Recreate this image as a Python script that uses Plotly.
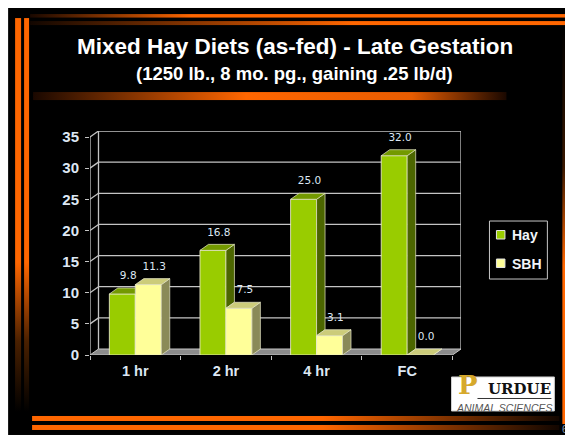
import base64
import plotly.graph_objects as go

# ---------------- data ----------------
categories = ["1 hr", "2 hr", "4 hr", "FC"]
hay = [9.8, 16.8, 25.0, 32.0]
sbh = [11.3, 7.5, 3.1, 0.0]
series_names = ["Hay", "SBH"]
y_ticks = [0, 5, 10, 15, 20, 25, 30, 35]

title_text = "Mixed Hay Diets (as-fed) - Late Gestation"
subtitle_text = "(1250 lb., 8 mo. pg., gaining .25 lb/d)"

# ---------------- geometry (window pixel coords; page body has an 8px margin) ----------------
WIN_W, WIN_H = 573, 435
OFF = 8
FIG_W, FIG_H = WIN_W - OFF, WIN_H - OFF
UX = 90.75          # px per category
UY = 6.23           # px per value unit
DX = 8.5 / UX       # depth offset (x, data units)
DY = 6.0 / UY       # depth offset (y, data units)
BW = 26.0 / UX      # bar width
YMAX = y_ticks[-1]
XR = [-0.5, len(categories) - 0.5 + DX]
YR = [0, YMAX + DY]
AX_X = 90           # window x of the front y-axis
AX_Y = 355          # window y of the front zero line
PW = (XR[1] - XR[0]) * UX
PH = (YR[1] - YR[0]) * UY
ML = AX_X - OFF
MB = FIG_H - (AX_Y - OFF)
MT = FIG_H - MB - PH
MR = FIG_W - ML - PW


def xp(px):
    return (px - AX_X) / PW


def yp(py):
    return (AX_Y - py) / PH


FONT = "Liberation Sans, Arial, sans-serif"
HAY_C = ["#99cc00", "#4c6600", "#739900"]   # front, side, top
SBH_C = ["#ffff99", "#8a8a58", "#cccc7a"]
EDGE = "rgba(235,235,205,0.85)"
GRID = "#c4c4c4"
LABEL_C = "#dde7f3"

pos = list(range(len(categories)))

# ---------------- 3D faces ----------------
def polys_to_xy(polys):
    xs, ys = [], []
    for p in polys:
        for (a, b) in p + [p[0]]:
            xs.append(a)
            ys.append(b)
        xs.append(None)
        ys.append(None)
    return xs, ys


hay_side, hay_top, sbh_side, sbh_top = [], [], [], []
for i, (h, s) in enumerate(zip(hay, sbh)):
    xa, xb = i - BW, i
    if s < h:
        bot = s
        hay_side.append([(xb, bot), (xb + DX, bot + DY), (xb + DX, h + DY), (xb, h)])
        hay_top.append([(xa, h), (xb, h), (xb + DX, h + DY), (xa + DX, h + DY)])
    else:
        hay_top.append([(xa, h), (xb, h), (xb, h + DY), (xa + DX, h + DY)])
    xa, xb = i, i + BW
    sbh_side.append([(xb, 0), (xb + DX, DY), (xb + DX, s + DY), (xb, s)])
    sbh_top.append([(xa, s), (xb, s), (xb + DX, s + DY), (xa + DX, s + DY)])

fig = go.Figure()

fig.add_trace(go.Bar(x=pos, y=hay, width=BW, offset=-BW, name=series_names[0],
                     marker=dict(color=HAY_C[0], line=dict(color=EDGE, width=1)),
                     showlegend=False, hoverinfo="skip"))
fig.add_trace(go.Bar(x=pos, y=sbh, width=BW, offset=0, name=series_names[1],
                     marker=dict(color=SBH_C[0], line=dict(color=EDGE, width=1)),
                     showlegend=False, hoverinfo="skip"))

for polys, col in [(hay_side, HAY_C[1]), (hay_top, HAY_C[2]),
                   (sbh_side, SBH_C[1]), (sbh_top, SBH_C[2])]:
    xs, ys = polys_to_xy(polys)
    fig.add_trace(go.Scatter(x=xs, y=ys, mode="lines", fill="toself", fillcolor=col,
                             line=dict(color=EDGE, width=0.8), showlegend=False,
                             hoverinfo="skip"))

# data labels
for vals, off in [(hay, -BW / 2), (sbh, BW / 2)]:
    fig.add_trace(go.Scatter(
        x=[i + off + 0.065 for i in pos], y=[v + DY + 1.0 for v in vals],
        mode="text", text=[f"{v:.1f}" for v in vals], textposition="top center",
        textfont=dict(family="DejaVu Sans, Verdana, sans-serif", size=10.5, color=LABEL_C),
        showlegend=False, hoverinfo="skip"))

# ---------------- walls / floor / grid ----------------
shapes = []
x_left, x_right = XR[0], len(categories) - 0.5
shapes.append(dict(type="path", xref="x", yref="y", layer="below",
                   path=f"M{x_left},0 L{x_right},0 L{x_right + DX},{DY} L{x_left + DX},{DY} Z",
                   fillcolor="#8c8c8c", line=dict(color=GRID, width=1)))
for v in y_ticks:
    if v > 0:
        shapes.append(dict(type="line", xref="x", yref="y", layer="below",
                           x0=x_left + DX, x1=x_right + DX, y0=v + DY, y1=v + DY,
                           line=dict(color=GRID, width=1.3)))
        shapes.append(dict(type="line", xref="x", yref="y", layer="below",
                           x0=x_left, x1=x_left + DX, y0=v, y1=v + DY,
                           line=dict(color=GRID, width=1.3)))
for xx in [x_left + DX, x_right + DX]:
    shapes.append(dict(type="line", xref="x", yref="y", layer="below",
                       x0=xx, x1=xx, y0=DY, y1=YMAX + DY, line=dict(color=GRID, width=1.3)))
shapes.append(dict(type="line", xref="x", yref="y", layer="below",
                   x0=x_left, x1=x_left, y0=0, y1=YMAX, line=dict(color=GRID, width=1.3)))

# legend (manual)
shapes.append(dict(type="rect", xref="paper", yref="paper", x0=xp(490), x1=xp(548),
                   y0=yp(279), y1=yp(221), line=dict(color="#c8c8c8", width=1),
                   fillcolor="black"))
shapes.append(dict(type="rect", xref="paper", yref="paper", x0=xp(497), x1=xp(505.5),
                   y0=yp(239), y1=yp(230.5), line=dict(color="#e6e6e6", width=1),
                   fillcolor=HAY_C[0]))
shapes.append(dict(type="rect", xref="paper", yref="paper", x0=xp(497), x1=xp(505.5),
                   y0=yp(267.5), y1=yp(259), line=dict(color="#e6e6e6", width=1),
                   fillcolor=SBH_C[0]))
# logo box
shapes.append(dict(type="rect", xref="paper", yref="paper", x0=xp(452), x1=xp(555),
                   y0=yp(411), y1=yp(377), line=dict(color="#d0d0d0", width=1),
                   fillcolor="white"))
shapes.append(dict(type="line", xref="paper", yref="paper", x0=xp(478), x1=xp(552),
                   y0=yp(398.5), y1=yp(398.5), line=dict(color="#333", width=1)))

annotations = [
    dict(text=title_text, x=xp(295), y=yp(46), xref="paper", yref="paper",
         showarrow=False, xanchor="center", yanchor="middle",
         font=dict(family=FONT, size=22.5, color="white", weight="bold")),
    dict(text=subtitle_text, x=xp(295), y=yp(73), xref="paper", yref="paper",
         showarrow=False, xanchor="center", yanchor="middle",
         font=dict(family=FONT, size=18.5, color="white", weight="bold")),
    dict(text=series_names[0], x=xp(511), y=yp(235), xref="paper", yref="paper",
         showarrow=False, xanchor="left", yanchor="middle",
         font=dict(family=FONT, size=14, color="#f2f5fa", weight="bold")),
    dict(text=series_names[1], x=xp(511), y=yp(263.5), xref="paper", yref="paper",
         showarrow=False, xanchor="left", yanchor="middle",
         font=dict(family=FONT, size=14, color="#f2f5fa", weight="bold")),
    # logo
    dict(text="P", x=xp(456), y=yp(402), xref="paper", yref="paper",
         showarrow=False, xanchor="left", yanchor="bottom",
         font=dict(family="DejaVu Serif, serif", size=26, color="#d6a92c", weight="bold")),
    dict(text="URDUE", x=xp(554), y=yp(400.5), xref="paper", yref="paper",
         showarrow=False, xanchor="right", yanchor="bottom",
         font=dict(family="DejaVu Serif, serif", size=15, color="#111", weight="bold")),
    dict(text="ANIMAL SCIENCES", x=xp(505), y=yp(400), xref="paper", yref="paper",
         showarrow=False, xanchor="center", yanchor="top",
         font=dict(family="Liberation Sans Narrow, Liberation Sans, sans-serif", size=10.5,
                   color="#555", style="italic")),
    dict(text="6", x=xp(566), y=yp(430), xref="paper", yref="paper",
         showarrow=False, xanchor="center", yanchor="middle",
         font=dict(family=FONT, size=10, color="#7f9cbc")),
]

# ---------------- background decoration (SVG) ----------------
def grad(gid, horiz, stops):
    x2, y2 = ("1", "0") if horiz else ("0", "1")
    st = "".join(f'<stop offset="{o}" stop-color="{c}"/>' for o, c in stops)
    return f'<linearGradient id="{gid}" x1="0" y1="0" x2="{x2}" y2="{y2}">{st}</linearGradient>'


OR = "#ff6600"
defs = "".join([
    grad("gt1", True, [(0, "#1a0800"), (0.3, OR), (1, OR)]),
    grad("gt2", True, [(0, "#120600"), (0.45, "#c04c00"), (0.6, OR), (1, OR)]),
    grad("gl", False, [(0, OR), (0.62, OR), (0.82, "#4a2000"), (1, "#000")]),
    grad("gr", False, [(0, "#000"), (0.35, "#3a1800"), (0.6, OR), (1, OR)]),
    grad("gb", True, [(0, OR), (0.55, OR), (0.8, "#7a3000"), (1, "#120600")]),
    grad("gs", True, [(0, "#1a0800"), (0.45, OR), (0.8, "#e85c00"), (1, "#1a0800")]),
])
rects = [
    (6, 5, 564, 430, "#000"),
    (30, 14, 539, 3.5, "url(#gt1)"),
    (30, 21, 539, 4, "url(#gt2)"),
    (15, 18, 6, 394, "url(#gl)"),
    (24, 18, 5, 394, "url(#gl)"),
    (563, 28, 3.5, 396, "url(#gr)"),
    (568, 28, 3, 383, "url(#gr)"),
    (32, 416, 528, 5, "url(#gb)"),
    (32, 425, 528, 5, "url(#gb)"),
    (33, 92, 474, 8, "url(#gs)"),
]
body = "".join(f'<rect x="{x}" y="{y}" width="{w}" height="{h}" fill="{f}"/>'
               for x, y, w, h, f in rects)
svg = (f'<svg xmlns="http://www.w3.org/2000/svg" width="{FIG_W}" height="{FIG_H}" '
       f'viewBox="{OFF} {OFF} {FIG_W} {FIG_H}" preserveAspectRatio="none">'
       f'<defs>{defs}</defs>{body}</svg>')
src = "data:image/svg+xml;base64," + base64.b64encode(svg.encode()).decode()

fig.update_layout(
    width=FIG_W, height=FIG_H,
    margin=dict(l=ML, r=MR, t=MT, b=MB, pad=0),
    paper_bgcolor="white", plot_bgcolor="rgba(0,0,0,0)",
    barmode="overlay", showlegend=False,
    shapes=shapes, annotations=annotations,
    images=[dict(source=src, xref="paper", yref="paper", x=xp(OFF), y=yp(OFF),
                 sizex=FIG_W / PW, sizey=FIG_H / PH, xanchor="left", yanchor="top",
                 sizing="stretch", layer="below")],
    xaxis=dict(range=XR, tickvals=pos, ticktext=categories, ticks="", showgrid=False,
               zeroline=False, showline=False, ticklabelstandoff=5,
               tickfont=dict(family=FONT, size=14.5, color=LABEL_C, weight="bold"),
               minor=dict(tickvals=[p + 0.5 for p in [-1] + pos], ticks="outside",
                          ticklen=4, tickcolor=GRID, showgrid=False)),
    yaxis=dict(range=YR, tickvals=y_ticks, ticks="outside", ticklen=4, tickcolor=GRID,
               showgrid=False, zeroline=False, showline=False, ticklabelstandoff=3,
               tickfont=dict(family=FONT, size=15, color=LABEL_C, weight="bold")),
)

fig.write_html("out.html")
